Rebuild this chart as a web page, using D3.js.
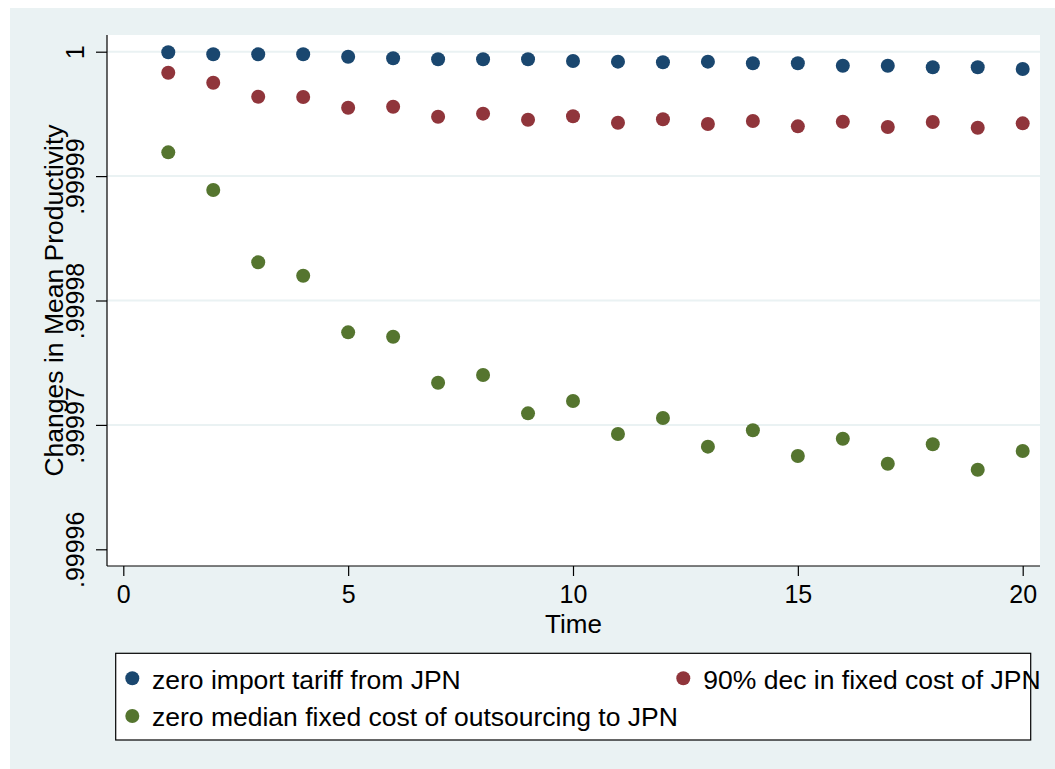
<!DOCTYPE html>
<html>
<head>
<meta charset="utf-8">
<script src="https://cdn.jsdelivr.net/npm/d3@7"></script>
<style>
  html, body { margin: 0; padding: 0; background: #ffffff; }
  svg { display: block; }
  text { font-family: "Liberation Sans", Arial, Helvetica, sans-serif; fill: #000; }
</style>
</head>
<body>
<svg id="chart" width="1055" height="769"></svg>
<script>
// Periods simulated
const periods = d3.range(1, 21);

// Mean productivity relative to baseline, one array per counterfactual
const zeroTariff = [
  0.99999995, 0.99999979, 0.99999979, 0.99999979, 0.99999960,
  0.99999947, 0.99999939, 0.99999939, 0.99999939, 0.99999925,
  0.99999920, 0.99999915, 0.99999920, 0.99999907, 0.99999907,
  0.99999887, 0.99999887, 0.99999875, 0.99999875, 0.99999861
];
const fixedCostCut = [
  0.99999831, 0.99999751, 0.99999638, 0.99999636, 0.99999550,
  0.99999558, 0.99999477, 0.99999502, 0.99999453, 0.99999481,
  0.99999429, 0.99999457, 0.99999419, 0.99999443, 0.99999400,
  0.99999437, 0.99999395, 0.99999435, 0.99999389, 0.99999424
];
const zeroOutsourcing = [
  0.99999191, 0.99998888, 0.99998307, 0.99998199, 0.99997744,
  0.99997709, 0.99997339, 0.99997401, 0.99997093, 0.99997192,
  0.99996927, 0.99997055, 0.99996825, 0.99996957, 0.99996750,
  0.99996889, 0.99996688, 0.99996844, 0.99996640, 0.99996790
];

const seriesNames = [
  "zero import tariff from JPN",
  "90% dec in fixed cost of JPN",
  "zero median fixed cost of outsourcing to JPN"
];
const seriesColors = ["#1a476f", "#90353b", "#55752f"];

const xTicks = [0, 5, 10, 15, 20];
const yTicks = [0.99996, 0.99997, 0.99998, 0.99999, 1];
const yTickLabels = [".99996", ".99997", ".99998", ".99999", "1"];
const yGridTicks = [0.99997, 0.99998, 0.99999, 1];

const svg = d3.select("#chart");

// Graph region and plot region
const plot = { left: 107, right: 1040, top: 35, bottom: 566 };

svg.append("rect")
  .attr("x", 10).attr("y", 8)
  .attr("width", 1045).attr("height", 761)
  .attr("fill", "#eaf2f3");

svg.append("rect")
  .attr("x", plot.left).attr("y", plot.top)
  .attr("width", plot.right - plot.left).attr("height", plot.bottom - plot.top)
  .attr("fill", "#ffffff");

const x = d3.scaleLinear().domain([0, 20]).range([123.3, 1022.7]);
const y = d3.scaleLinear().domain([0.99996, 1]).range([549.3, 51.7]);

// Horizontal grid lines
svg.append("g")
  .selectAll("line")
  .data(yGridTicks)
  .join("line")
  .attr("x1", plot.left).attr("x2", plot.right)
  .attr("y1", d => y(d)).attr("y2", d => y(d))
  .attr("stroke", "#eaf2f3")
  .attr("stroke-width", 2);

// Y axis
const yAxis = d3.axisLeft(y)
  .tickValues(yTicks)
  .tickFormat((d, i) => yTickLabels[i])
  .tickSize(11)
  .tickPadding(0);

const gy = svg.append("g")
  .attr("transform", `translate(${plot.left},0)`)
  .call(yAxis);
gy.select(".domain").remove();
gy.selectAll(".tick line").attr("stroke", "#000").attr("stroke-width", 1.2);
gy.selectAll(".tick text")
  .attr("x", null).attr("dy", null)
  .attr("transform", "translate(-23,0) rotate(-90)")
  .attr("text-anchor", "middle")
  .attr("font-size", 25)
  .attr("font-family", "Liberation Sans, Arial, sans-serif")
  .attr("fill", "#000");

svg.append("line")
  .attr("x1", plot.left).attr("x2", plot.left)
  .attr("y1", plot.top).attr("y2", plot.bottom)
  .attr("stroke", "#000").attr("stroke-width", 1.2);

// X axis
const xAxis = d3.axisBottom(x)
  .tickValues(xTicks)
  .tickFormat(d3.format("d"))
  .tickSize(10)
  .tickPadding(0);

const gx = svg.append("g")
  .attr("transform", `translate(0,${plot.bottom})`)
  .call(xAxis);
gx.select(".domain").remove();
gx.selectAll(".tick line").attr("stroke", "#000").attr("stroke-width", 1.2);
gx.selectAll(".tick text")
  .attr("y", 37).attr("dy", null)
  .attr("font-size", 25)
  .attr("font-family", "Liberation Sans, Arial, sans-serif")
  .attr("fill", "#000");

svg.append("line")
  .attr("x1", plot.left).attr("x2", plot.right)
  .attr("y1", plot.bottom).attr("y2", plot.bottom)
  .attr("stroke", "#000").attr("stroke-width", 1.2);

// Axis titles
svg.append("text")
  .attr("transform", `translate(63,${(plot.top + plot.bottom) / 2}) rotate(-90)`)
  .attr("text-anchor", "middle")
  .attr("font-size", 26.5)
  .text("Changes in Mean Productivity");

svg.append("text")
  .attr("x", (plot.left + plot.right) / 2)
  .attr("y", 633)
  .attr("text-anchor", "middle")
  .attr("font-size", 26)
  .text("Time");

// Scatter markers
const allSeries = [zeroTariff, fixedCostCut, zeroOutsourcing];
allSeries.forEach((vals, s) => {
  svg.append("g")
    .selectAll("circle")
    .data(periods.map((t, i) => ({ t, v: vals[i] })))
    .join("circle")
    .attr("cx", d => x(d.t))
    .attr("cy", d => y(d.v))
    .attr("r", 7)
    .attr("fill", seriesColors[s]);
});

// Legend
const legend = svg.append("g");
legend.append("rect")
  .attr("x", 115.7).attr("y", 653.3)
  .attr("width", 915).attr("height", 86.7)
  .attr("fill", "#ffffff")
  .attr("stroke", "#000")
  .attr("stroke-width", 1.2);

const legendPos = [
  { mx: 132.3, my: 678.3, tx: 152, ty: 689.3 },
  { mx: 683.3, my: 678.3, tx: 703.3, ty: 689.3 },
  { mx: 132.3, my: 716, tx: 152, ty: 725.7 }
];
seriesNames.forEach((name, i) => {
  const p = legendPos[i];
  legend.append("circle")
    .attr("cx", p.mx).attr("cy", p.my).attr("r", 7)
    .attr("fill", seriesColors[i]);
  legend.append("text")
    .attr("x", p.tx).attr("y", p.ty)
    .attr("font-size", 26.5)
    .text(name);
});
</script>
</body>
</html>
